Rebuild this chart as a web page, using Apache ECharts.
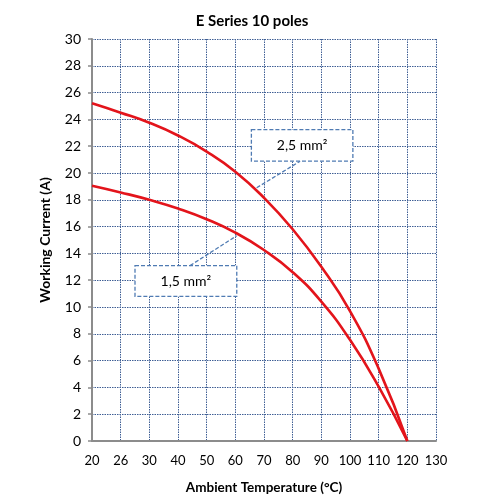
<!DOCTYPE html>
<html><head><meta charset="utf-8">
<script src="https://cdn.jsdelivr.net/npm/echarts@6/dist/echarts.min.js"></script>
<style>html,body{margin:0;padding:0;background:#fff}#c{width:500px;height:500px}</style>
</head><body><div id="c"></div>
<script>
// tick labels of the temperature axis (evenly spaced, as in the reference)
const xTickLabels = ['20','26','30','40','50','60','70','80','90','100','110','120','130'];
// curve values at each tick position (index along the axis)
const xPositions = [0,1,2,3,4,5,6,7,8,9,10,11];
const current25 = [25.2,24.5,23.75,22.8,21.6,20.1,18.15,15.8,13.0,9.7,5.4,0];
const current15 = [19.05,18.55,18.0,17.35,16.55,15.55,14.25,12.6,10.4,7.55,4.05,0];
const yTicks = {min:0, max:30, interval:2};

const red = '#e3141b';
const gridBlue = '#3f5f95';
const calloutBlue = '#4f7bb3';
const font = 'Lato';

function pts(vals){ return xPositions.map((x,i)=>[x, vals[i]]); }

function callout(text, box, leader){
  return {
    markArea: {
      silent: true,
      itemStyle: {color:'#fff', borderColor: calloutBlue, borderWidth: 1.3, borderType: [4,2]},
      label: {show: true, position: 'inside', color:'#000', fontFamily: font, fontSize: 14, formatter: text},
      data: [[{coord: [box[0], box[1]]}, {coord: [box[2], box[3]]}]]
    },
    markLine: {
      silent: true, symbol: 'none',
      lineStyle: {color: calloutBlue, width: 1.3, type: [4,2]},
      label: {show: false},
      data: [[{coord: leader[0]}, {coord: leader[1]}]]
    }
  };
}

const chart = echarts.init(document.getElementById('c'), null, {renderer:'canvas'});
chart.setOption({
  animation: false,
  title: {text: 'E Series 10 poles', left: 247, top: 9, textAlign: 'center',
    textStyle: {fontFamily: font, fontWeight: 'bold', fontSize: 15, color: '#000'}},
  grid: {left: 92, right: 64, top: 39, bottom: 57},
  xAxis: {
    type: 'value', min: 0, max: xTickLabels.length - 1, interval: 1,
    name: 'Ambient Temperature (°C)', nameLocation: 'middle', nameGap: 40,
    nameTextStyle: {fontFamily: font, fontWeight: 'bold', fontSize: 13.5, color: '#000'},
    axisLine: {lineStyle: {color: '#8c8c8c', width: 2}},
    axisTick: {show: false},
    axisLabel: {fontFamily: font, fontSize: 13, color: '#000', margin: 13,
      formatter: v => xTickLabels[v]},
    splitLine: {show: true, lineStyle: {color: gridBlue, type: [1.5,1], width: 1}}
  },
  yAxis: {
    type: 'value', min: yTicks.min, max: yTicks.max, interval: yTicks.interval,
    name: 'Working Current (A)', nameLocation: 'middle', nameGap: 40,
    nameTextStyle: {fontFamily: font, fontWeight: 'bold', fontSize: 14, color: '#000'},
    axisLine: {show: true, lineStyle: {color: '#8c8c8c', width: 2}},
    axisTick: {show: true, inside: false, length: 4, lineStyle: {color: '#8c8c8c', width: 1.5}},
    axisLabel: {fontFamily: font, fontSize: 14, color: '#000', margin: 11},
    splitLine: {show: true, lineStyle: {color: gridBlue, type: [1.5,1], width: 1}}
  },
  series: [
    Object.assign({
      name: '2,5 mm²', type: 'line', data: pts(current25), smooth: 0.5, showSymbol: false,
      lineStyle: {color: red, width: 2.6}, z: 5
    }, callout('2,5 mm²', [5.56, 23.24, 9.1, 20.88], [[5.745, 18.9], [7.26, 20.88]])),
    Object.assign({
      name: '1,5 mm²', type: 'line', data: pts(current15), smooth: 0.5, showSymbol: false,
      lineStyle: {color: red, width: 2.6}, z: 5
    }, callout('1,5 mm²', [1.5, 13.09, 5.05, 10.79], [[3.42, 13.09], [5.05, 15.32]]))
  ]
});
</script></body></html>
